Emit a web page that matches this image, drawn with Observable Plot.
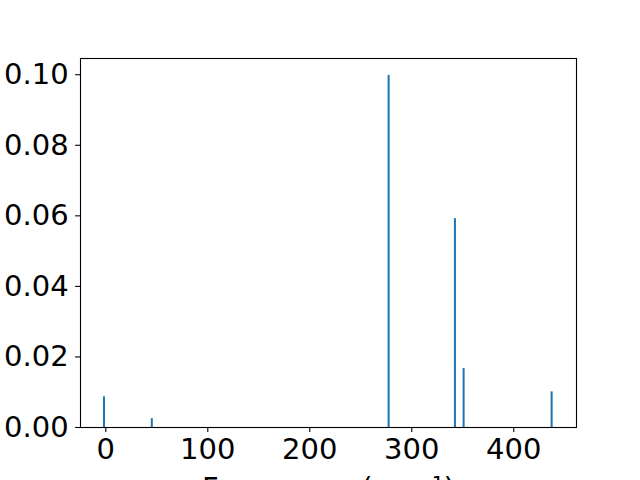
<!DOCTYPE html>
<html>
<head>
<meta charset="utf-8">
<script src="https://cdn.jsdelivr.net/npm/d3@7"></script>
<script src="https://cdn.jsdelivr.net/npm/@observablehq/plot@0.6"></script>
<style>
  html, body { margin: 0; padding: 0; background: #fff; overflow: hidden; }
</style>
</head>
<body>
<div id="chart"></div>
<script>
const frequencies = [-1.3, 45.6, 277.8, 342.8, 351.3, 437.6];
const intensities = [0.0087, 0.0025, 0.0998, 0.0592, 0.0167, 0.0101];
const xTicks = [0, 100, 200, 300, 400];
const yTicks = [0, 0.02, 0.04, 0.06, 0.08, 0.10];
const xLabel = "Frequency (cm\u207B\u00B9)";
const barWidth = 2;

const data = frequencies.map((f, i) => ({freq: f, intensity: intensities[i]}));
const fs = 29;

const chart = Plot.plot({
  width: 640,
  height: 480,
  marginLeft: 80,
  marginRight: 64,
  marginTop: 58,
  marginBottom: 53,
  style: {fontFamily: "DejaVu Sans", fontSize: fs + "px", background: "#fff", color: "#000"},
  x: {domain: [-24.8, 461.5]},
  y: {domain: [0, 0.1046]},
  marks: [
    Plot.rectY(data, {
      x1: d => d.freq - barWidth / 2,
      x2: d => d.freq + barWidth / 2,
      y: "intensity",
      fill: "#1f77b4"
    }),
    Plot.axisX({ticks: xTicks, tickSize: 4.9, tickPadding: 6.5, strokeWidth: 1.1, fontSize: fs, label: null, tickFormat: d3.format("d")}),
    Plot.axisY({ticks: yTicks, tickSize: 4.9, tickPadding: 7, strokeWidth: 1.1, fontSize: fs, label: null, tickFormat: d3.format(".2f")}),
    Plot.frame({stroke: "#000", strokeWidth: 1.1}),
    Plot.text([xLabel], {text: d => d, frameAnchor: "bottom", lineAnchor: "top", dy: 50, fontSize: fs, fill: "#000"})
  ]
});
document.getElementById("chart").appendChild(chart);
</script>
</body>
</html>
